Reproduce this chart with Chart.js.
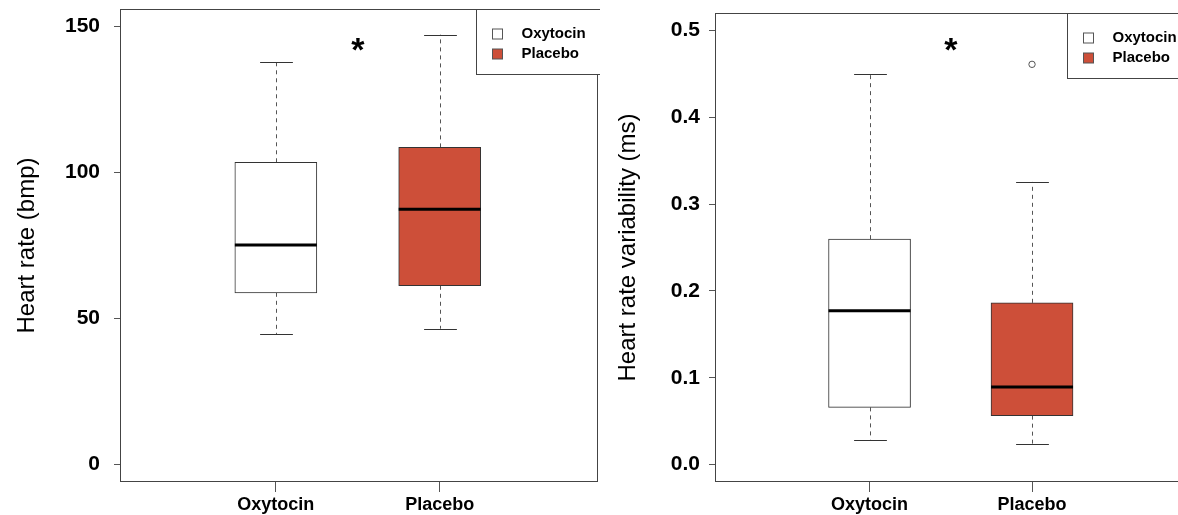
<!DOCTYPE html>
<html>
<head>
<meta charset="utf-8">
<script src="https://cdn.jsdelivr.net/npm/chart.js@4.4.1/dist/chart.umd.min.js"></script>
<style>
  html, body { margin: 0; padding: 0; background: #fff; overflow: hidden; width: 1178px; height: 515px; }
  #wrap { position: relative; width: 1178px; height: 515px; overflow: hidden; }
  .panel { position: absolute; top: 0; width: 600px; height: 515px; }
  #p1 { left: 0; }
  #p2 { left: 600px; }
</style>
</head>
<body>
<div id="wrap">
  <div class="panel" id="p1"><canvas id="c1" width="600" height="515"></canvas></div>
  <div class="panel" id="p2"><canvas id="c2" width="600" height="515"></canvas></div>
</div>
<script>
// Groups and their positions on the x axis
const groups = ['Oxytocin', 'Placebo'];
const groupPos = [1, 2];
const fillColors = ['#FFFFFF', '#CD4F39'];

// Heart rate (bmp): whisker ends, quartiles and medians per group
const hrLow = [44.7, 46.5];
const hrQ1 = [58.8, 61.2];
const hrMedian = [75.2, 87.4];
const hrQ3 = [103.5, 108.6];
const hrHigh = [137.7, 147.2];
const hrOutliers = [[], []];
const hrTicks = [0, 50, 100, 150];
const hrSig = [1.5, 143.4];

// Heart rate variability (ms)
const hrvLow = [0.0288, 0.0242];
const hrvQ1 = [0.0659, 0.0564];
const hrvMedian = [0.1771, 0.0894];
const hrvQ3 = [0.2596, 0.1863];
const hrvHigh = [0.4494, 0.3255];
const hrvOutliers = [[], [0.4609]];
const hrvTicks = [0, 0.1, 0.2, 0.3, 0.4, 0.5];
const hrvSig = [1.5, 0.483];

const FONT = "'Liberation Sans', Arial, Helvetica, sans-serif";
const INK = '#000';
const LINE = '#444';

// Keeps the plot area exactly where the layout puts it
function noAutoPadding(s) {
  s.paddingTop = 0; s.paddingBottom = 0; s.paddingLeft = 0; s.paddingRight = 0;
}

// Draws whiskers, caps, medians, frame, significance mark and legend
function boxPlotPlugin(stats) {
  return {
    id: 'boxWhisker',
    beforeDatasetsDraw(chart) {
      const ctx = chart.ctx;
      const ys = chart.scales.y;
      ctx.save();
      groups.forEach((g, i) => {
        const bar = chart.getDatasetMeta(i).data[0];
        const cx = Math.round(bar.x) + 0.5;
        const capHalf = bar.width * 0.2;
        const yLow = ys.getPixelForValue(stats.low[i]);
        const yHigh = ys.getPixelForValue(stats.high[i]);
        const yQ1 = ys.getPixelForValue(stats.q1[i]);
        const yQ3 = ys.getPixelForValue(stats.q3[i]);
        ctx.strokeStyle = '#555';
        ctx.lineWidth = 1;
        ctx.setLineDash([4, 4]);
        ctx.beginPath();
        ctx.moveTo(cx, yQ3); ctx.lineTo(cx, yHigh);
        ctx.moveTo(cx, yQ1); ctx.lineTo(cx, yLow);
        ctx.stroke();
        ctx.setLineDash([]);
        ctx.strokeStyle = '#333';
        ctx.beginPath();
        const yh = Math.round(yHigh) + 0.5, yl = Math.round(yLow) + 0.5;
        ctx.moveTo(cx - capHalf, yh); ctx.lineTo(cx + capHalf, yh);
        ctx.moveTo(cx - capHalf, yl); ctx.lineTo(cx + capHalf, yl);
        ctx.stroke();
      });
      ctx.restore();
    },
    afterDatasetsDraw(chart) {
      const ctx = chart.ctx;
      const ys = chart.scales.y, xs = chart.scales.x;
      const area = chart.chartArea;
      ctx.save();
      // medians
      groups.forEach((g, i) => {
        const bar = chart.getDatasetMeta(i).data[0];
        const ym = ys.getPixelForValue(stats.median[i]);
        ctx.strokeStyle = '#000';
        ctx.lineWidth = 3;
        ctx.beginPath();
        ctx.moveTo(bar.x - bar.width / 2, ym);
        ctx.lineTo(bar.x + bar.width / 2, ym);
        ctx.stroke();
      });
      // plot frame
      ctx.strokeStyle = LINE;
      ctx.lineWidth = 1;
      ctx.strokeRect(Math.round(area.left) - 0.5, Math.round(area.top) + 0.5,
        Math.round(area.right - area.left) + 1, Math.round(area.bottom - area.top) - 1);
      // significance mark
      const sx = xs.getPixelForValue(stats.sig[0]);
      const sy = ys.getPixelForValue(stats.sig[1]);
      ctx.fillStyle = INK;
      ctx.font = 'bold 34px ' + FONT;
      ctx.textAlign = 'center';
      ctx.textBaseline = 'alphabetic';
      ctx.fillText('*', sx, sy + 34 * 0.46);
      // legend box in the top-right corner
      const lw = 121, lh = 65;
      const lx = Math.round(area.right) - lw + 0.5;
      const ly = Math.round(area.top) + 0.5;
      ctx.fillStyle = '#fff';
      ctx.fillRect(lx, ly, lw + 20, lh);
      ctx.strokeStyle = LINE;
      ctx.strokeRect(lx, ly, lw + 20, lh);
      ctx.font = 'bold 15px ' + FONT;
      ctx.textAlign = 'left';
      ctx.textBaseline = 'middle';
      chart.data.datasets.slice(0, groups.length).forEach((ds, i) => {
        const rowY = ly + 24 + i * 20.5;
        ctx.fillStyle = ds.backgroundColor;
        ctx.fillRect(lx + 16, Math.round(rowY - 5), 10, 10);
        ctx.strokeStyle = '#555';
        ctx.strokeRect(lx + 16, Math.round(rowY - 5), 10, 10);
        ctx.fillStyle = INK;
        ctx.fillText(ds.label, lx + 45, rowY);
      });
      ctx.restore();
    }
  };
}

function makeChart(canvasId, stats, opts) {
  const datasets = groups.map((g, i) => ({
    type: 'bar',
    label: g,
    data: [{ x: groupPos[i], y: [stats.q1[i], stats.q3[i]] }],
    backgroundColor: fillColors[i],
    borderColor: '#333',
    borderWidth: 1,
    borderSkipped: false,
    barThickness: 82,
    grouped: false
  }));
  const outlierPoints = [];
  stats.outliers.forEach((list, i) => list.forEach(v => outlierPoints.push({ x: groupPos[i], y: v })));
  datasets.push({
    type: 'scatter',
    label: 'outliers',
    data: outlierPoints,
    pointStyle: 'circle',
    pointRadius: 3.2,
    borderColor: '#555',
    backgroundColor: '#fff',
    borderWidth: 1
  });

  return new Chart(document.getElementById(canvasId), {
    type: 'bar',
    data: { datasets },
    options: {
      responsive: false,
      animation: false,
      devicePixelRatio: 1,
      layout: { padding: { left: 0, right: opts.padRight, top: opts.padTop, bottom: 0 } },
      plugins: { legend: { display: false }, tooltip: { enabled: false } },
      scales: {
        x: {
          type: 'linear',
          min: 0.055,
          max: 2.96,
          offset: false,
          afterBuildTicks: s => { s.ticks = groupPos.map(v => ({ value: v })); },
          afterFit: s => { s.height = 33; noAutoPadding(s); },
          grid: { offset: false, drawOnChartArea: false, drawTicks: true, tickLength: 10, color: '#555' },
          border: { display: false },
          ticks: {
            autoSkip: false,
            maxRotation: 0,
            padding: 2,
            color: INK,
            font: { family: FONT, size: 18, weight: 'bold' },
            callback: v => groups[groupPos.indexOf(v)]
          }
        },
        y: {
          type: 'linear',
          min: opts.yMin,
          max: opts.yMax,
          afterBuildTicks: s => { s.ticks = opts.ticks.map(v => ({ value: v })); },
          afterFit: s => { s.width = opts.axisWidth; noAutoPadding(s); },
          grid: { drawOnChartArea: false, drawTicks: true, tickLength: 7, color: '#555' },
          border: { display: false },
          ticks: {
            padding: opts.tickPad,
            color: INK,
            font: { family: FONT, size: 21, weight: 'bold' },
            callback: opts.fmt
          },
          title: {
            display: true,
            text: opts.title,
            color: INK,
            font: { family: FONT, size: 24, weight: 'normal' },
            padding: { top: opts.titlePad, bottom: 0 }
          }
        }
      }
    },
    plugins: [boxPlotPlugin(stats)]
  });
}

makeChart('c1',
  { low: hrLow, q1: hrQ1, median: hrMedian, q3: hrQ3, high: hrHigh, outliers: hrOutliers, sig: hrSig },
  { yMin: -6, yMax: 156, ticks: hrTicks, fmt: v => String(v), title: 'Heart rate (bmp)',
    axisWidth: 121, padRight: 3, padTop: 9, tickPad: 14, titlePad: 12.6 });

makeChart('c2',
  { low: hrvLow, q1: hrvQ1, median: hrvMedian, q3: hrvQ3, high: hrvHigh, outliers: hrvOutliers, sig: hrvSig },
  { yMin: -0.02, yMax: 0.52, ticks: hrvTicks, fmt: v => v.toFixed(1), title: 'Heart rate variability (ms)',
    axisWidth: 116, padRight: 12, padTop: 13, tickPad: 9, titlePad: 14 });
</script>
</body>
</html>
